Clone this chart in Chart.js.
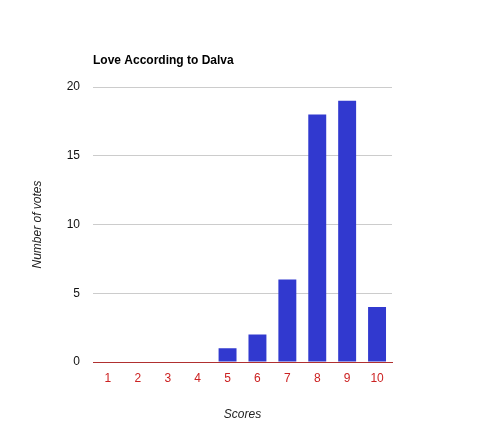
<!DOCTYPE html>
<html>
<head>
<meta charset="utf-8">
<script src="https://cdn.jsdelivr.net/npm/chart.js@4/dist/chart.umd.min.js"></script>
<style>
  html, body { margin: 0; padding: 0; background: #ffffff; }
  #wrap { width: 486px; height: 448px; }
</style>
</head>
<body>
<div id="wrap"><canvas id="chart"></canvas></div>
<script>
let scores = ['1', '2', '3', '4', '5', '6', '7', '8', '9', '10'];
let votes = [0, 0, 0, 0, 1, 2, 6, 18, 19, 4];
let chartTitle = 'Love According to Dalva';

//draws the title lined up with the left edge of the plot
let leftTitle = {
    id: 'leftTitle',
    afterDraw(chart){
        let ctx = chart.ctx;
        ctx.save();
        ctx.font = 'bold 12px "Liberation Sans", Arial, sans-serif';
        ctx.fillStyle = '#000000';
        ctx.textAlign = 'left';
        ctx.textBaseline = 'middle';
        ctx.fillText(chartTitle, chart.chartArea.left, 61);
        ctx.restore();
    }
};

let data = {
    labels: scores,
    datasets: [
        {
            label: 'Number of votes',
            data: votes,
            backgroundColor: '#3139cf',
            categoryPercentage: 1,
            barPercentage: 0.6
        }
    ]
};

let config = {
    type: 'bar',
    data: data,
    plugins: [leftTitle],
    options: {
        responsive: true,
        maintainAspectRatio: false,
        animation: false,
        layout: {
            padding: {left: 30, right: 94, top: 87, bottom: 26}
        },
        scales: {
            x: {
                grid: {display: false, drawTicks: false},
                border: {color: '#b03030', width: 1},
                ticks: {
                    color: '#cc2222',
                    padding: 9,
                    font: {family: '"Liberation Sans", Arial, sans-serif', size: 12}
                },
                title: {
                    display: true,
                    text: 'Scores',
                    color: '#222222',
                    padding: 0,
                    font: {family: '"Liberation Sans", Arial, sans-serif', size: 12, style: 'italic'}
                },
                afterFit: function(scale){ scale.height = 60; }
            },
            y: {
                min: 0,
                max: 20,
                grid: {color: '#cccccc', drawTicks: false},
                border: {display: false},
                ticks: {
                    stepSize: 5,
                    color: '#111111',
                    padding: 13,
                    font: {family: '"Liberation Sans", Arial, sans-serif', size: 12}
                },
                title: {
                    display: true,
                    text: 'Number of votes',
                    color: '#222222',
                    padding: 0,
                    font: {family: '"Liberation Sans", Arial, sans-serif', size: 12, style: 'italic'}
                },
                afterFit: function(scale){ scale.width = 63; }
            }
        },
        plugins: {
            legend: {display: false},
            title: {display: false},
            tooltip: {enabled: false}
        }
    }
};

new Chart(document.querySelector('#chart'), config);
</script>
</body>
</html>
